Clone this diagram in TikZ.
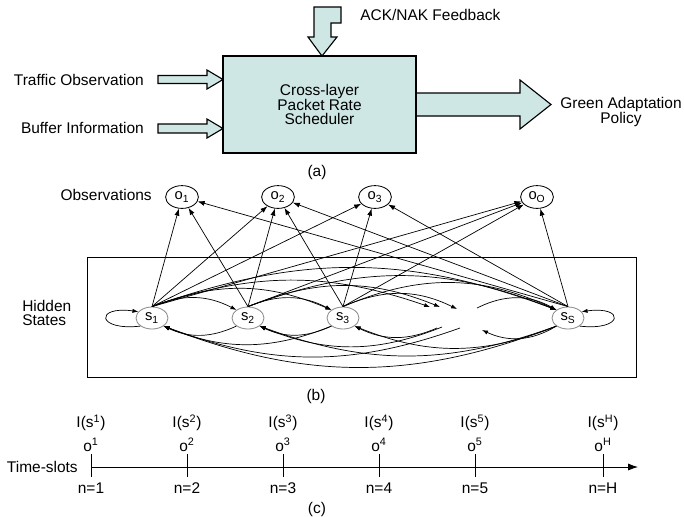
\documentclass[tikz,border=0pt]{standalone}
\usepackage{fontspec}
\setmainfont{Liberation Sans}
\usepackage{tikz}
\usetikzlibrary{positioning,shapes,arrows.meta,calc}
\definecolor{schedfill}{RGB}{206,230,228}
\definecolor{stategray}{RGB}{140,140,140}

\begin{document}
\begin{tikzpicture}[x=0.025cm,y=0.025cm,
  txt/.style={font={\fontsize{11}{10}\selectfont\lineskiplimit=-10pt}, inner sep=0pt, align=center},
  sched/.style={txt, draw, line width=1.3pt, fill=schedfill, minimum width=4.825cm, minimum height=2.425cm},
  blk/.style={draw, line width=0.8pt, fill=schedfill, line join=miter},
  obs/.style={ellipse, draw, line width=0.6pt, minimum width=0.82cm, minimum height=0.57cm, inner sep=0pt, font=\fontsize{10.5}{10}\selectfont},
  hid/.style={obs, draw=stategray, minimum width=0.8cm, minimum height=0.55cm},
  emit/.style={-{Latex[length=5pt,width=3.6pt]}, line width=0.5pt},
  trans/.style={-{Latex[length=4.2pt,width=3pt]}, line width=0.5pt}]
\useasboundingbox (0,0) rectangle (684,-516);

% (a) the scheduler block
\draw[blk] (314,-7) -- (341,-7) -- (341,-23) -- (331,-23) -- (331,-37) -- (337,-37) -- (322,-56) -- (308,-37) -- (314,-37) -- cycle;
\draw[blk] (158,-75.5) -- (207,-75.5) -- (207,-70) -- (223,-79.5) -- (207,-89) -- (207,-83.5) -- (158,-83.5) -- cycle;
\draw[blk] (158,-124) -- (207,-124) -- (207,-119) -- (223,-128.5) -- (207,-138) -- (207,-133) -- (158,-133) -- cycle;
\draw[blk] (416,-93) -- (520,-93) -- (520,-80) -- (551,-104.5) -- (520,-129) -- (520,-116) -- (416,-116) -- cycle;
\node[sched] (sched) at (319.5,-104.5) {Cross-layer\\Packet Rate\\Scheduler};
\node[txt, anchor=west] (ack) at (360,-15) {ACK/NAK Feedback};
\node[txt, anchor=east] (traffic) at (144,-80) {Traffic Observation};
\node[txt, anchor=east] (buffer) at (144,-128) {Buffer Information};
\node[txt] (policy) at (621,-112) {Green Adaptation\\Policy};
\node[txt] (capa) at (317,-172) {(a)};

% (b) hidden states and observations
\node[txt, anchor=east] (obslbl) at (152,-195) {Observations};
\node[obs] (o1) at (182,-197) {o\textsubscript{1}};
\node[obs] (o2) at (278,-197) {o\textsubscript{2}};
\node[obs] (o3) at (375,-197) {o\textsubscript{3}};
\node[obs] (oO) at (537,-197) {o\textsubscript{O}};
\draw[line width=0.5pt] (87,-257) rectangle (636,-377);
\node[txt, align=left, anchor=west] (hidlbl) at (22,-313) {Hidden\\States};
\node[hid] (s1) at (152,-318) {s\textsubscript{1}};
\node[hid] (s2) at (248,-318) {s\textsubscript{2}};
\node[hid] (s3) at (343,-318) {s\textsubscript{3}};
\node[hid] (sS) at (568,-318) {s\textsubscript{S}};
% loose ends of the omitted states
\coordinate (ga) at (430,-307);
\coordinate (gb) at (440,-307);
\coordinate (gc) at (457,-309);
\coordinate (gd) at (477,-308);
\coordinate (ge) at (482,-330);
\coordinate (gf) at (437,-328);
\coordinate (gg) at (442,-327);
\coordinate (gh) at (460,-328);

\foreach \s/\o in {s1/o1,s1/o2,s1/o3,s1/oO,s2/o1,s2/o2,s2/oO,s3/o2,s3/o3,s3/oO,sS/o1,sS/o2,sS/o3,sS/oO}
  \draw[emit] (\s.north) -- (\o);

% forward transitions
\draw[trans] (s1.north) to[bend left=25] (s2.north west);
\draw[trans] (s1.north) to[bend left=22] (s3.north west);
\draw[trans] (s1.north) to[bend left=19] (ga);
\draw[trans] (s1.north) to[bend left=20] (sS.north west);
\draw[trans] (s2.north) to[bend left=25] (s3.north west);
\draw[trans] (s2.north) to[bend left=22] (gb);
\draw[trans] (s2.north) to[bend left=21] (sS.north west);
\draw[trans] (s3.north) to[bend left=25] (gc);
\draw[trans] (s3.north) to[bend left=24] (sS.north west);
\draw[trans] (gd) to[bend left=28] (sS.north west);
% backward transitions
\draw[trans] (s2.south west) to[bend left=25] (s1.south east);
\draw[trans] (s3.south west) to[bend left=25] (s2.south east);
\draw[trans] (s3.south west) to[bend left=22] (s1.south east);
\draw[trans] (gf) to[bend left=25] (s3.south east);
\draw[trans] (gg) to[bend left=22] (s2.south east);
\draw[trans] (gh) to[bend left=20] (s1.south east);
\draw[trans] (sS.south west) to[bend left=28] (ge);
\draw[trans] (sS.south west) to[bend left=22] (s3.south east);
\draw[trans] (sS.south west) to[bend left=20] (s2.south east);
\draw[trans] (sS.south west) to[bend left=21] (s1.south east);
% self loops
\draw[trans] (s1.215) .. controls +(-44,-5) and +(-44,6) .. (s1.155);
\draw[trans] (sS.325) .. controls +(44,-5) and +(44,6) .. (sS.25);
\node[txt] (capb) at (316,-396) {(b)};

% (c) time axis
\node[txt, anchor=east] (slots) at (78,-467) {Time-slots};
\coordinate (tend) at (638,-467);
\foreach \x/\n [count=\i] in {91/1,187/2,283/3,379/4,475/5,603/H} {
  \coordinate (t\i) at (\x,-467);
  \draw[line width=0.6pt] (\x,-454) -- (\x,-477);
  \node[txt] (inf\i) at (\x,-423) {I(s\textsuperscript{\n})};
  \node[txt] (ob\i) at (\x,-445) {o\textsuperscript{\n}};
  \node[txt] (n\i) at (\x,-488) {n=\n};
}
\draw[-{Latex[length=7pt,width=5pt]}, line width=0.6pt] (t1) -- (tend);
\node[txt] (capc) at (317,-509) {(c)};
\end{tikzpicture}
\end{document}
